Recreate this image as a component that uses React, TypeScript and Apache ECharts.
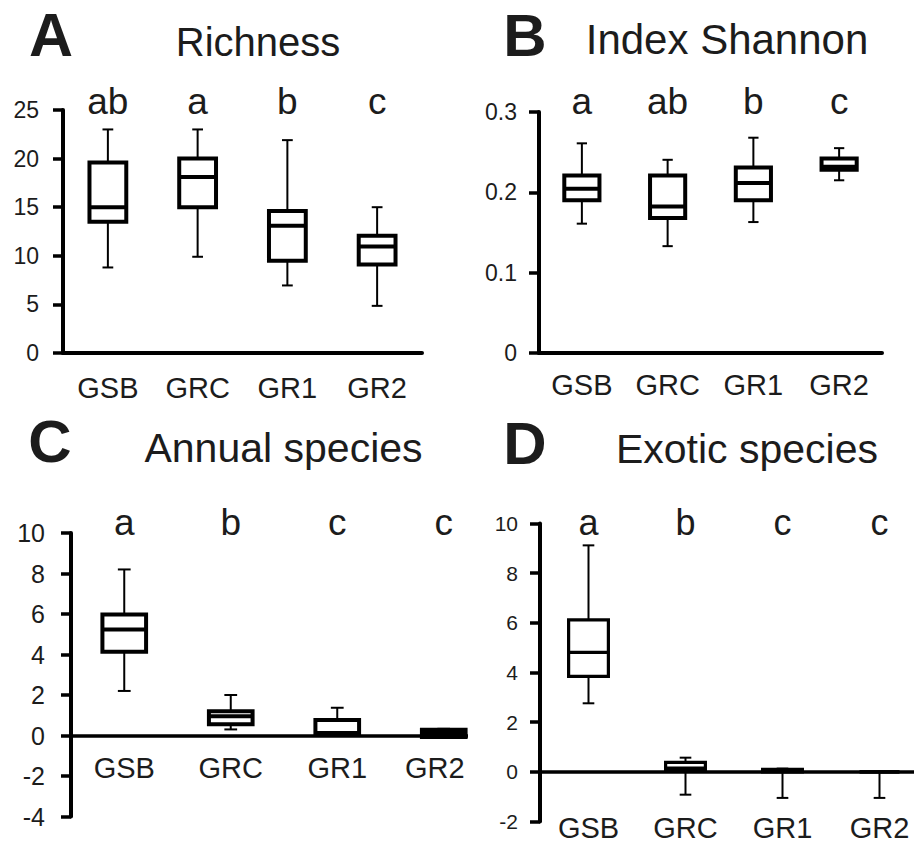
import React, { useEffect, useRef } from "react";
import * as echarts from "echarts";

const FONT = "'Liberation Sans', Arial, sans-serif";
const INK = "#1c1c1c";

const categories = ["GSB", "GRC", "GR1", "GR2"];

// [min, Q1, median, Q3, max]
const richness = [
  [8.8, 13.5, 15.0, 19.6, 23.0],
  [9.9, 15.0, 18.1, 20.0, 23.0],
  [6.95, 9.5, 13.1, 14.6, 21.9],
  [4.85, 9.1, 10.95, 12.05, 15.0],
];
const richnessLetters = ["ab", "a", "b", "c"];
const richnessTicks = { min: 0, max: 25, interval: 5 };

const shannon = [
  [0.161, 0.19, 0.2045, 0.221, 0.261],
  [0.133, 0.168, 0.1825, 0.221, 0.2405],
  [0.163, 0.19, 0.2115, 0.231, 0.268],
  [0.215, 0.228, 0.232, 0.242, 0.255],
];
const shannonLetters = ["a", "ab", "b", "c"];
const shannonTicks = { min: 0, max: 0.3, interval: 0.1 };

const annual = [
  [2.2, 4.13, 5.23, 5.97, 8.2],
  [0.3, 0.56, 0.95, 1.2, 2.0],
  [0.0, 0.02, 0.12, 0.76, 1.37],
  [0.0, -0.08, 0.12, 0.28, 0.33],
];
const annualLetters = ["a", "b", "c", "c"];
const annualTicks = { min: -4, max: 10, interval: 2 };

const exotic = [
  [2.76, 3.84, 4.81, 6.12, 9.12],
  [-0.92, 0.1, 0.15, 0.38, 0.57],
  [-1.05, 0.0, 0.05, 0.1, 0.13],
  [-1.05, 0.0, 0.0, 0.0, 0.0],
];
const exoticLetters = ["a", "b", "c", "c"];
const exoticTicks = { min: -2, max: 10, interval: 2 };

type PanelCfg = {
  box: { left: number; top: number; width: number; height: number };
  grid: { left: number; top: number; width: number; height: number };
  stats: number[][];
  letters: string[];
  ticks: { min: number; max: number; interval: number };
  tag: { text: string; x: number; y: number; size: number };
  title: { text: string; x: number; y: number; size: number };
  yLabelSize: number;
  yLabelMargin: number;
  xLabelMargin: number;
  lastLabelPad: number;
  xLineWidth: number;
  boxLine: number;
  letterSize: number;
  letterDy: number;
};

const panels: PanelCfg[] = [
  {
    box: { left: 0, top: 0, width: 460, height: 410 },
    grid: { left: 63, top: 110, width: 359, height: 243 },
    stats: richness,
    letters: richnessLetters,
    ticks: richnessTicks,
    tag: { text: "A", x: 51, y: 35, size: 61 },
    title: { text: "Richness", x: 258, y: 41.5, size: 40 },
    yLabelSize: 23,
    yLabelMargin: 24,
    xLabelMargin: 20,
    lastLabelPad: 0,
    xLineWidth: 4,
    boxLine: 4,
    letterSize: 37,
    letterDy: -9,
  },
  {
    box: { left: 460, top: 0, width: 454, height: 410 },
    grid: { left: 79, top: 112, width: 343, height: 241 },
    stats: shannon,
    letters: shannonLetters,
    ticks: shannonTicks,
    tag: { text: "B", x: 65, y: 35, size: 60 },
    title: { text: "Index Shannon", x: 267, y: 39, size: 42 },
    yLabelSize: 23,
    yLabelMargin: 22,
    xLabelMargin: 17.5,
    lastLabelPad: 0,
    xLineWidth: 4,
    boxLine: 4,
    letterSize: 37,
    letterDy: -11,
  },
  {
    box: { left: 0, top: 400, width: 468, height: 443 },
    grid: { left: 71, top: 133, width: 426, height: 283.5 },
    stats: annual,
    letters: annualLetters,
    ticks: annualTicks,
    tag: { text: "C", x: 50, y: 41, size: 60 },
    title: { text: "Annual species", x: 283.5, y: 47.5, size: 41 },
    yLabelSize: 25,
    yLabelMargin: 26,
    xLabelMargin: -63,
    lastLabelPad: 18,
    xLineWidth: 3.5,
    boxLine: 4,
    letterSize: 37,
    letterDy: -11,
  },
  {
    box: { left: 468, top: 400, width: 446, height: 443 },
    grid: { left: 72, top: 123.5, width: 388, height: 298 },
    stats: exotic,
    letters: exoticLetters,
    ticks: exoticTicks,
    tag: { text: "D", x: 57, y: 43, size: 60 },
    title: { text: "Exotic species", x: 279, y: 49, size: 41 },
    yLabelSize: 21,
    yLabelMargin: 22,
    xLabelMargin: -8.5,
    lastLabelPad: 0,
    xLineWidth: 3.5,
    boxLine: 3.2,
    letterSize: 36,
    letterDy: -1.5,
  },
];

function buildOption(p: PanelCfg) {
  const data = p.stats.map((s, i) => [i, ...s]);
  const renderItem = (params: any, api: any) => {
    const idx = api.value(0);
    const mn = api.value(1);
    const q1 = api.value(2);
    const md = api.value(3);
    const q3 = api.value(4);
    const mx = api.value(5);
    const cx = api.coord([idx, md])[0];
    const y = (v: number) => api.coord([idx, v])[1];
    const bw = api.size([1, 0])[0];
    const hw = (bw * 0.41) / 2;
    const cw = (bw * 0.12) / 2;
    const stroke = "#000";
    const wl = 2;
    const line = (x1: number, y1: number, x2: number, y2: number, lw: number) => ({
      type: "line",
      shape: { x1, y1, x2, y2 },
      style: { stroke, lineWidth: lw, fill: null },
    });
    const children: any[] = [
      line(cx, y(q3), cx, y(mx), wl),
      line(cx, y(q1), cx, y(mn), wl),
      line(cx - cw, y(mx), cx + cw, y(mx), wl),
      line(cx - cw, y(mn), cx + cw, y(mn), wl),
      {
        type: "rect",
        shape: { x: cx - hw, y: y(q3), width: hw * 2, height: y(q1) - y(q3) },
        style: { fill: "#fff", stroke, lineWidth: p.boxLine },
      },
      line(cx - hw, y(md), cx + hw, y(md), p.boxLine),
      {
        type: "text",
        x: cx,
        y: api.coord([idx, p.ticks.max])[1] + p.letterDy,
        style: {
          text: p.letters[params.dataIndex],
          fill: INK,
          fontSize: p.letterSize,
          fontFamily: FONT,
          align: "center",
          verticalAlign: "middle",
        },
      },
    ];
    return { type: "group", children };
  };

  return {
    animation: false,
    backgroundColor: "transparent",
    textStyle: { fontFamily: FONT },
    grid: { ...p.grid, containLabel: false, outerBoundsMode: "none" },
    xAxis: {
      type: "category",
      data: categories,
      axisLine: { show: true, onZero: true, lineStyle: { color: "#000", width: p.xLineWidth } },
      axisTick: { show: false },
      axisLabel: {
        color: INK,
        fontSize: 29,
        fontFamily: FONT,
        margin: p.xLabelMargin,
        interval: 0,
        formatter: (v: string, i: number) =>
          p.lastLabelPad && i === categories.length - 1 ? `{r|${v}}` : v,
        rich: {
          r: {
            color: INK,
            fontSize: 29,
            fontFamily: FONT,
            padding: [0, p.lastLabelPad, 0, 0],
          },
        },
      },
      splitLine: { show: false },
    },
    yAxis: {
      type: "value",
      min: p.ticks.min,
      max: p.ticks.max,
      interval: p.ticks.interval,
      axisLine: { show: true, lineStyle: { color: "#000", width: 4 } },
      axisTick: { show: true, inside: false, length: 10, lineStyle: { color: "#000", width: 3.5 } },
      axisLabel: {
        color: INK,
        fontSize: p.yLabelSize,
        fontFamily: FONT,
        margin: p.yLabelMargin,
      },
      splitLine: { show: false },
    },
    series: [
      {
        type: "custom",
        renderItem,
        data,
        encode: { x: 0, y: [1, 2, 3, 4, 5] },
        z: 10,
      },
    ],
    graphic: [
      {
        type: "text",
        x: p.tag.x,
        y: p.tag.y,
        style: {
          text: p.tag.text,
          fill: INK,
          fontSize: p.tag.size,
          fontWeight: "bold",
          fontFamily: FONT,
          align: "center",
          verticalAlign: "middle",
        },
      },
      {
        type: "text",
        x: p.title.x,
        y: p.title.y,
        style: {
          text: p.title.text,
          fill: INK,
          fontSize: p.title.size,
          fontFamily: FONT,
          align: "center",
          verticalAlign: "middle",
        },
      },
    ],
  };
}

function Panel({ cfg }: { cfg: PanelCfg }) {
  const ref = useRef<HTMLDivElement>(null);
  useEffect(() => {
    if (!ref.current) return;
    const chart = echarts.init(ref.current, null, { renderer: "svg" });
    chart.setOption(buildOption(cfg) as any);
    return () => chart.dispose();
  }, [cfg]);
  return (
    <div
      ref={ref}
      style={{
        position: "absolute",
        left: cfg.box.left,
        top: cfg.box.top,
        width: cfg.box.width,
        height: cfg.box.height,
        overflow: "hidden",
      }}
    />
  );
}

export default function App() {
  return (
    <div
      style={{
        position: "absolute",
        left: 0,
        top: 0,
        width: 914,
        height: 843,
        background: "#fff",
        overflow: "hidden",
      }}
    >
      {panels.map((p, i) => (
        <Panel key={i} cfg={p} />
      ))}
    </div>
  );
}
